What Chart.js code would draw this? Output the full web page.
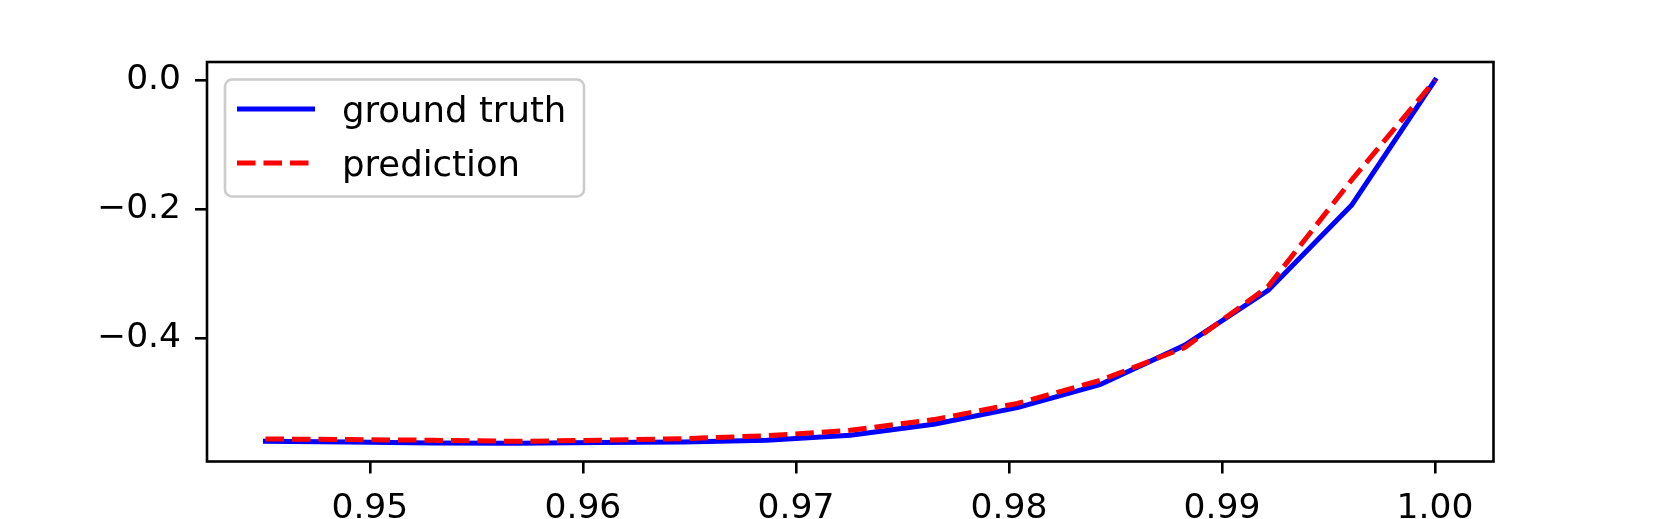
<!DOCTYPE html>
<html>
<head>
<meta charset="utf-8">
<script src="https://cdn.jsdelivr.net/npm/chart.js@4"></script>
<style>
  body { margin: 0; background: #fff; }
  #wrap { width: 1660px; height: 519px; }
</style>
</head>
<body>
<div id="wrap"><canvas id="chart" width="1660" height="519"></canvas></div>
<script>
// values
const xValues = [0.94510, 0.94902, 0.95294, 0.95686, 0.96078, 0.96471, 0.96863, 0.97255,
                 0.97647, 0.98039, 0.98431, 0.98824, 0.99216, 0.99608, 1.00000];
const groundTruth = [-0.5597, -0.5607, -0.5623, -0.5628, -0.5616, -0.5607, -0.5580, -0.5504,
                     -0.5333, -0.5075, -0.4713, -0.4110, -0.3260, -0.1940, 0.0000];
const prediction = [-0.5560, -0.5570, -0.5580, -0.5597, -0.5580, -0.5556, -0.5510, -0.5426,
                    -0.5260, -0.5010, -0.4650, -0.4145, -0.3200, -0.1550, 0.0000];
const seriesNames = ['ground truth', 'prediction'];

const xTicks = [0.95, 0.96, 0.97, 0.98, 0.99, 1.00];
const xTickLabels = ['0.95', '0.96', '0.97', '0.98', '0.99', '1.00'];
const yTicks = [0.0, -0.2, -0.4];
const yTickLabels = ['0.0', '\u22120.2', '\u22120.4'];

const FONT = 'DejaVu Sans';
const TICK_SIZE = 34.5;
const LEGEND_SIZE = 35.5;

let chart = null;

// 5% margins like matplotlib autoscale
function paddedRange(values) {
    const lo = Math.min(...values);
    const hi = Math.max(...values);
    const m = (hi - lo) * 0.05;
    return [lo - m, hi + m];
}

const frameBox = {
    id: 'frameBox',
    afterDatasetsDraw(chart) {
        const { ctx, chartArea } = chart;
        ctx.save();
        ctx.strokeStyle = '#000';
        ctx.lineWidth = 2.6;
        ctx.strokeRect(chartArea.left, chartArea.top,
            chartArea.right - chartArea.left, chartArea.bottom - chartArea.top);
        ctx.restore();
    }
};

const legendBox = {
    id: 'legendBox',
    afterDraw(chart) {
        const ctx = chart.ctx;
        const bx = 225, by = 79.5, bw = 359, bh = 117, r = 7;
        ctx.save();
        ctx.beginPath();
        ctx.roundRect(bx, by, bw, bh, r);
        ctx.fillStyle = 'rgba(255,255,255,0.8)';
        ctx.fill();
        ctx.strokeStyle = '#cccccc';
        ctx.lineWidth = 2.6;
        ctx.stroke();

        ctx.font = LEGEND_SIZE + 'px "' + FONT + '"';
        ctx.textBaseline = 'alphabetic';
        ctx.textAlign = 'left';
        chart.data.datasets.forEach((ds, i) => {
            const y = 109 + i * 54;
            ctx.beginPath();
            ctx.strokeStyle = ds.borderColor;
            ctx.lineWidth = ds.borderWidth;
            ctx.lineCap = 'butt';
            ctx.setLineDash(ds.borderDash || []);
            ctx.moveTo(237, y);
            ctx.lineTo(315, y);
            ctx.stroke();
            ctx.setLineDash([]);
            ctx.fillStyle = '#000';
            ctx.fillText(ds.label, 342, y + 12.5);
        });
        ctx.restore();
    }
};

function initChart() {
    const xRange = paddedRange(xValues);
    const yRange = paddedRange(groundTruth.concat(prediction));
    const ctx = document.getElementById('chart').getContext('2d');

    chart = new Chart(ctx, {
        type: 'line',
        data: {
            datasets: [{
                label: seriesNames[0],
                data: xValues.map((x, i) => ({ x: x, y: groundTruth[i] })),
                borderColor: '#0000ff',
                borderWidth: 5,
                borderJoinStyle: 'round',
                borderCapStyle: 'square',
                pointRadius: 0,
                tension: 0,
                order: 1
            }, {
                label: seriesNames[1],
                data: xValues.map((x, i) => ({ x: x, y: prediction[i] })),
                borderColor: '#ff0000',
                borderWidth: 5,
                borderDash: [18.5, 8],
                borderJoinStyle: 'round',
                pointRadius: 0,
                tension: 0,
                order: 0
            }]
        },
        options: {
            responsive: false,
            animation: false,
            devicePixelRatio: 1,
            layout: { padding: { left: 0, top: 62, right: 166.5, bottom: 0 } },
            plugins: {
                legend: { display: false },
                tooltip: { enabled: false }
            },
            scales: {
                x: {
                    type: 'linear',
                    min: xRange[0],
                    max: xRange[1],
                    afterBuildTicks: (scale) => { scale.ticks = xTicks.map(v => ({ value: v })); },
                    afterFit: (scale) => { scale.height = 57.5; },
                    ticks: {
                        autoSkip: false,
                        maxRotation: 0,
                        padding: 15,
                        color: '#000',
                        font: { family: FONT, size: TICK_SIZE },
                        callback: (v, i) => xTickLabels[i]
                    },
                    grid: {
                        drawOnChartArea: false,
                        drawTicks: true,
                        tickLength: 12,
                        color: '#000',
                        lineWidth: 2.6
                    },
                    border: { display: false }
                },
                y: {
                    type: 'linear',
                    min: yRange[0],
                    max: yRange[1],
                    afterBuildTicks: (scale) => { scale.ticks = yTicks.map(v => ({ value: v })); },
                    afterFit: (scale) => { scale.width = 207; },
                    ticks: {
                        padding: 14,
                        color: '#000',
                        font: { family: FONT, size: TICK_SIZE },
                        callback: (v, i) => yTickLabels[i]
                    },
                    grid: {
                        drawOnChartArea: false,
                        drawTicks: true,
                        tickLength: 12,
                        color: '#000',
                        lineWidth: 2.6
                    },
                    border: { display: false }
                }
            }
        },
        plugins: [frameBox, legendBox]
    });
}

initChart();
</script>
</body>
</html>
